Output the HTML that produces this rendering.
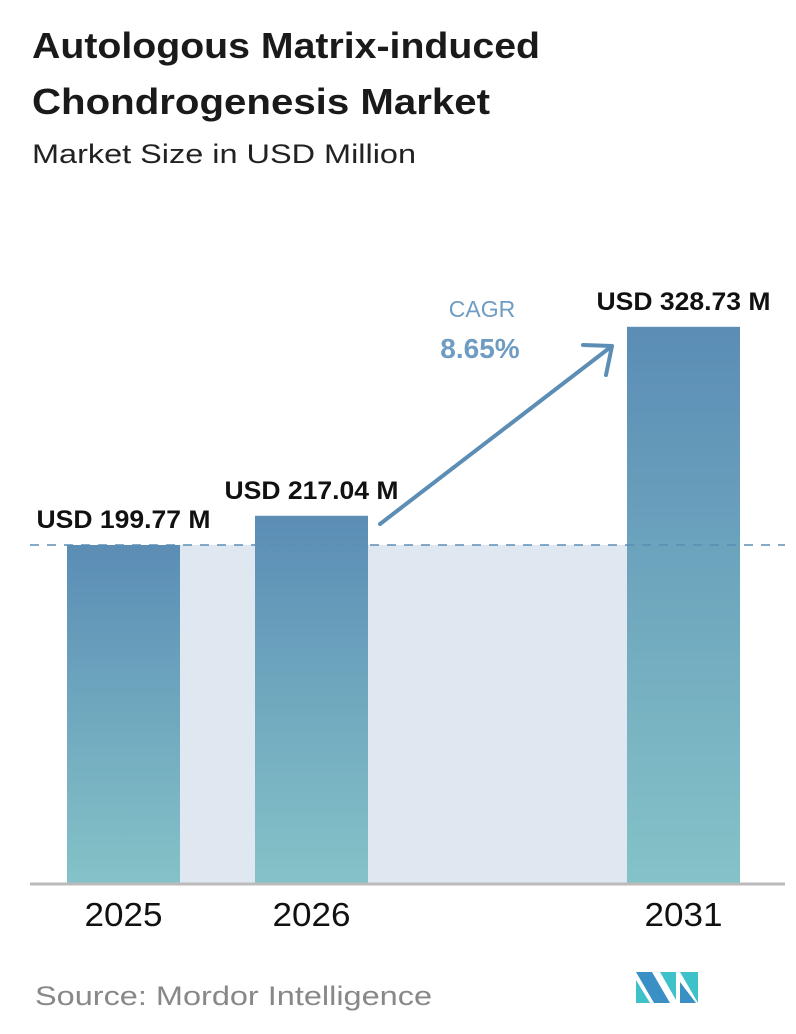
<!DOCTYPE html>
<html><head><meta charset="utf-8"><style>
body{margin:0;background:#fff;font-family:"Liberation Sans",sans-serif}
svg{display:block}
</style></head><body>
<svg width="796" height="1034" viewBox="0 0 796 1034">
<defs>
<linearGradient id="bg" x1="0" y1="0" x2="0" y2="1">
<stop offset="0" stop-color="#5b8db5"/><stop offset="1" stop-color="#84c3c8"/>
</linearGradient>
</defs>
<text x="32" y="58" font-size="36" font-weight="bold" fill="#1a1a1a" textLength="508" lengthAdjust="spacingAndGlyphs">Autologous Matrix-induced</text>
<text x="32" y="114" font-size="36" font-weight="bold" fill="#1a1a1a" textLength="458" lengthAdjust="spacingAndGlyphs">Chondrogenesis Market</text>
<text x="32" y="163" font-size="27" fill="#222" textLength="384" lengthAdjust="spacingAndGlyphs">Market Size in USD Million</text>
<g id="plot"></g>
<text x="482" y="317" font-size="23" fill="#6e9cc2" text-anchor="middle">CAGR</text>
<text x="480" y="358" font-size="28" font-weight="bold" fill="#6e9cc2" text-anchor="middle">8.65%</text>
<text x="35" y="1005" font-size="27" fill="#888" textLength="397" lengthAdjust="spacingAndGlyphs">Source:  Mordor Intelligence</text>
<g>
<polygon points="636,972 652,972 670,1003 654,1003" fill="#3a8fc4"/>
<polygon points="636,980 636,1003 650,1003" fill="#3fc1c9"/>
<polygon points="660,972 676,972 676,1000" fill="#3fc1c9"/>
<polygon points="680,972 698,972 698,1003" fill="#3fc1c9"/>
<polygon points="680,982 696,1003 680,1003" fill="#3a8fc4"/>
</g>
</svg>
<script>
const categories=["2025","2026","2031"];
const values=[199.77,217.04,328.73];
const valueLabels=["USD 199.77 M","USD 217.04 M","USD 328.73 M"];
const NS="http://www.w3.org/2000/svg";
const g=document.getElementById('plot');
const baseY=883,scale=338/199.77;
const barX=[67,255,627],barW=113;
const y=v=>baseY-v*scale;
function mk(t,a){const e=document.createElementNS(NS,t);for(const k in a)e.setAttribute(k,a[k]);g.appendChild(e);return e;}
const bg=mk('rect',{x:barX[0]+barW,y:y(values[0]),width:barX[2]-barX[0]-barW,height:baseY-y(values[0]),fill:'#dfe8f0'});


categories.forEach((c,i)=>{
const r=mk('rect',{x:barX[i],y:y(values[i]),width:barW,height:baseY-y(values[i]),fill:'url(#bg)'});


const l=mk('text',{x:barX[i]+barW/2,y:y(values[i])-17,'font-size':25,'font-weight':'bold',fill:'#111','text-anchor':'middle',textLength:174,lengthAdjust:'spacingAndGlyphs'});
l.textContent=valueLabels[i];


const t=mk('text',{x:barX[i]+barW/2,y:926,'font-size':33,fill:'#111','text-anchor':'middle',textLength:78,lengthAdjust:'spacingAndGlyphs'});
t.textContent=c;


});
const d=mk('line',{x1:30,x2:785,y1:y(values[0]),y2:y(values[0]),stroke:'#5b8db5','stroke-width':1.5,'stroke-dasharray':'9,8'});


const ax=mk('line',{x1:30,x2:785,y1:baseY+1,y2:baseY+1,stroke:'#bbb','stroke-width':3});


const ar=mk('path',{d:'M380 524 L612 346 M583 345 L612 346 L606 375',stroke:'#5b8db5','stroke-width':4,fill:'none','stroke-linecap':'round','stroke-linejoin':'round'});


</script>
</body></html>
